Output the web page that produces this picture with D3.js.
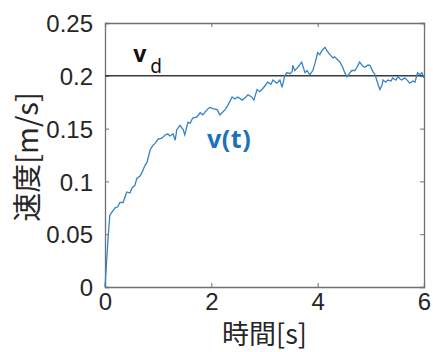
<!DOCTYPE html>
<html>
<head>
<meta charset="utf-8">
<script src="https://cdn.jsdelivr.net/npm/d3@7"></script>
<style>
  body { margin: 0; background: #fff; }
  svg text { font-family: "Liberation Sans", Arial, sans-serif; }
</style>
</head>
<body>
<div id="chart"></div>
<script>
// data: time [s] and speed [m/s]
var timeS = [0, 0.056, 0.09, 0.13, 0.19, 0.24, 0.28, 0.34, 0.41, 0.47, 0.51, 0.56, 0.60, 0.66, 0.70, 0.75, 0.79, 0.85, 0.90, 0.94,
  1.00, 1.07, 1.13, 1.18, 1.22, 1.28, 1.32, 1.35, 1.41, 1.47, 1.50, 1.56, 1.60, 1.65, 1.73, 1.79, 1.84, 1.92, 1.97,
  2.03, 2.11, 2.16, 2.20, 2.26, 2.31, 2.39, 2.44, 2.50, 2.58, 2.63, 2.69, 2.76, 2.80, 2.86, 2.91, 2.97,
  3.03, 3.06, 3.12, 3.16, 3.23, 3.29, 3.33, 3.38, 3.42, 3.48, 3.52, 3.53, 3.57, 3.61, 3.67, 3.70, 3.76, 3.80, 3.85, 3.91, 3.95,
  4.00, 4.04, 4.08, 4.14, 4.17, 4.23, 4.29, 4.32, 4.38, 4.42, 4.47, 4.51, 4.55, 4.61, 4.64, 4.70, 4.74, 4.79, 4.85, 4.89, 4.94, 4.98,
  5.04, 5.08, 5.11, 5.17, 5.21, 5.23, 5.28, 5.32, 5.38, 5.41, 5.47, 5.51, 5.55, 5.58, 5.64, 5.70, 5.73, 5.79, 5.83, 5.88, 5.92, 5.96, 6.00];
var speed = [0, 0.045, 0.068, 0.071, 0.075, 0.076, 0.080, 0.080, 0.090, 0.089, 0.094, 0.096, 0.103, 0.105, 0.109, 0.115, 0.118, 0.130, 0.134, 0.136,
  0.140, 0.141, 0.144, 0.145, 0.143, 0.145, 0.139, 0.149, 0.153, 0.149, 0.144, 0.156, 0.155, 0.160, 0.161, 0.165, 0.163, 0.168, 0.170,
  0.169, 0.168, 0.163, 0.165, 0.168, 0.172, 0.180, 0.178, 0.180, 0.177, 0.179, 0.182, 0.180, 0.177, 0.187, 0.185, 0.188,
  0.192, 0.194, 0.192, 0.196, 0.193, 0.196, 0.189, 0.200, 0.203, 0.202, 0.204, 0.210, 0.205, 0.207, 0.211, 0.213, 0.203, 0.205, 0.201, 0.205, 0.212,
  0.222, 0.220, 0.224, 0.227, 0.224, 0.220, 0.217, 0.218, 0.215, 0.213, 0.208, 0.203, 0.199, 0.203, 0.205, 0.205, 0.208, 0.213, 0.209, 0.208, 0.210, 0.210,
  0.204, 0.201, 0.196, 0.187, 0.191, 0.196, 0.194, 0.196, 0.195, 0.198, 0.196, 0.199, 0.197, 0.196, 0.198, 0.195, 0.193, 0.195, 0.194, 0.203, 0.201, 0.203, 0.198];
var targetSpeed = 0.2;
var xTicks = [0, 2, 4, 6];
var yTicks = [0, 0.05, 0.1, 0.15, 0.2, 0.25];

var margin = {top: 23, right: 9, bottom: 65, left: 105},
    width = 433 - margin.left - margin.right,
    height = 352 - margin.top - margin.bottom;

var x = d3.scaleLinear().domain([0, 6]).range([0, width]);
var y = d3.scaleLinear().domain([0, 0.25]).range([height, 0]);

var data = timeS.map(function(t, i) { return {t: t, v: speed[i]}; });

var svg = d3.select("#chart").append("svg")
    .attr("width", 433)
    .attr("height", 352)
  .append("g")
    .attr("transform", "translate(" + margin.left + "," + margin.top + ")");

var axisColor = "#707070";

// box with inward ticks on all four sides
function styleAxis(g) {
  g.select(".domain").attr("stroke", axisColor).attr("stroke-width", 1.3);
  g.selectAll(".tick line").attr("stroke", axisColor);
  g.selectAll(".tick text").attr("fill", "#262626").style("font-size", "24px");
}

svg.append("g")
    .attr("transform", "translate(0," + height + ")")
    .call(d3.axisBottom(x).tickValues(xTicks).tickSize(-4).tickPadding(14).tickFormat(d3.format("d")))
    .call(styleAxis);
svg.append("g")
    .call(d3.axisTop(x).tickValues(xTicks).tickSize(-4).tickFormat(""))
    .call(styleAxis);
svg.append("g")
    .call(d3.axisLeft(y).tickValues(yTicks).tickSize(-4).tickPadding(12).tickFormat(function(d) { return d3.format("")(+d.toFixed(2)); }))
    .call(styleAxis);
svg.append("g")
    .attr("transform", "translate(" + width + ",0)")
    .call(d3.axisRight(y).tickValues(yTicks).tickSize(-4).tickFormat(""))
    .call(styleAxis);

svg.selectAll(".tick text").attr("dy", "0.36em");

// target speed line
svg.append("line")
    .attr("x1", x(0)).attr("x2", x(6))
    .attr("y1", y(targetSpeed)).attr("y2", y(targetSpeed))
    .attr("stroke", "#3a3a3a")
    .attr("stroke-width", 1.5);

var line = d3.line()
    .x(function(d) { return x(d.t); })
    .y(function(d) { return y(d.v); });

svg.append("path")
    .datum(data)
    .attr("fill", "none")
    .attr("stroke", "#3583c4")
    .attr("stroke-width", 1.3)
    .attr("d", line);

// labels
var vd = svg.append("text")
    .attr("x", x(0.53))
    .attr("y", y(0.2135))
    .attr("fill", "#111")
    .style("font-family", "'Noto Sans', sans-serif")
    .style("font-weight", "bold")
    .style("font-size", "23px")
    .text("v");
vd.append("tspan")
    .attr("dx", 4)
    .attr("dy", 11)
    .style("font-weight", "normal")
    .style("font-size", "19px")
    .text("d");

svg.append("text")
    .attr("x", x(1.92))
    .attr("y", y(0.132))
    .attr("fill", "#1a72b8")
    .style("font-family", "'Noto Sans', sans-serif")
    .style("font-weight", "bold")
    .style("font-size", "25px")
    .style("letter-spacing", "0.5px")
    .text("v(t)");

svg.append("text")
    .attr("x", width / 2)
    .attr("y", height + 57)
    .attr("text-anchor", "middle")
    .attr("fill", "#262626")
    .style("font-family", "'Noto Sans CJK JP', sans-serif")
    .style("font-size", "27px")
    .text("時間[s]");

svg.append("text")
    .attr("transform", "translate(" + (-margin.left + 38) + "," + (height / 2 + 2) + ") rotate(-90)")
    .attr("text-anchor", "middle")
    .attr("fill", "#262626")
    .style("font-family", "'Noto Sans CJK JP', sans-serif")
    .style("font-size", "29px")
    .text("速度[m/s]");
</script>
</body>
</html>
